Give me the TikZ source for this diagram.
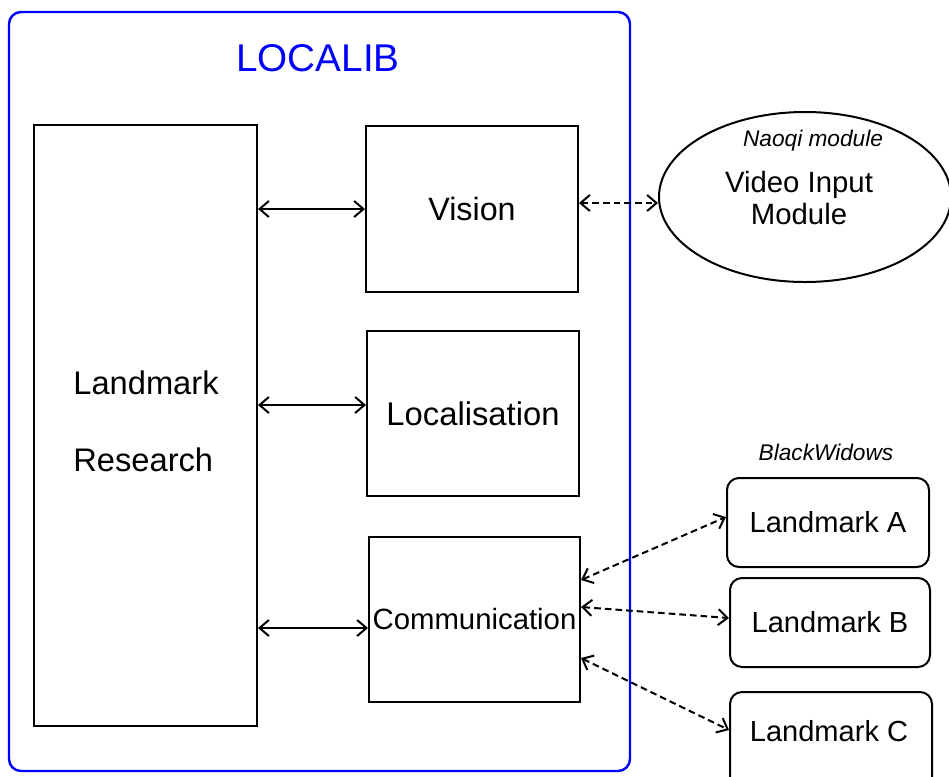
\documentclass[tikz,border=0pt]{standalone}
\usepackage{fontspec}
\setmainfont{Liberation Sans}
\usetikzlibrary{arrows.meta,shapes.geometric,calc}

\tikzset{
  box/.style={draw=black, line width=1.5pt, inner sep=0pt},
  landmarkbox/.style={box, rounded corners=9pt, minimum width=150pt, minimum height=66.75pt,
    font=\fontsize{21.8}{26}\selectfont},
  link/.style={line width=1.5pt, {Straight Barb[length=7pt,width=12pt,line width=1.5pt]}-{Straight Barb[length=7pt,width=12pt,line width=1.5pt]}},
  dlink/.style={link, dash pattern=on 5pt off 3pt},
  tag/.style={font=\fontsize{17}{20}\selectfont\itshape, inner sep=0pt}
}

\begin{document}
\begin{tikzpicture}[x=0.75pt, y=-0.75pt]
  \useasboundingbox (0,0) rectangle (949,776);

  % LOCALIB container
  \draw[blue, line width=1.8pt, rounded corners=9pt] (9,12) rectangle (630,771);
  \node[text=blue, inner sep=0pt, font=\fontsize{29}{34}\selectfont] (title) at (318,58) {LOCALIB};

  % internal modules
  \node[box, minimum width=167.25pt, minimum height=450.75pt] (LR) at (145.5,425.5) {};
  \node[inner sep=0pt, align=left, font=\fontsize{24.5}{57.75}\selectfont] (LRtext)
    at (146,421.5) {Landmark\\Research};
  \node[box, minimum width=159pt, minimum height=124.5pt, font=\fontsize{24.2}{29}\selectfont]
    (V) at (472,209) {Vision};
  \node[box, minimum width=159pt, minimum height=123.75pt, font=\fontsize{24.6}{29}\selectfont]
    (Loc) at (473,413.5) {Localisation};
  \node[box, minimum width=158.25pt, minimum height=123.75pt, font=\fontsize{22}{26}\selectfont]
    (Com) at (474.5,619.5) {Communication};

  % external Naoqi module
  \node[draw=black, line width=1.5pt, ellipse, minimum width=219pt, minimum height=127.5pt,
        inner sep=0pt] (VIM) at (805,197) {};
  \node[tag] (naoqi) at (813,141) {Naoqi module};
  \node[inner sep=0pt, align=center, font=\fontsize{22}{23.5}\selectfont] (vimtext) at (799,198)
    {Video Input\\Module};

  % BlackWidows landmarks
  \node[tag] (bw) at (826,452) {BlackWidows};
  \node[landmarkbox, minimum width=151.5pt] (LA) at (828,522.5) {Landmark A};
  \node[landmarkbox] (LB) at (830,622.5) {Landmark B};
  \node[landmarkbox, minimum width=151.5pt, minimum height=73.5pt] (LC) at (831,741) {};
  \node[inner sep=0pt, font=\fontsize{21.8}{26}\selectfont] (LCtext) at (829,731) {Landmark C};

  % internal links
  \draw[link] (LR.east |- V.west) -- (V.west);
  \draw[link] (LR.east |- 0,405) -- (Loc.west |- 0,405);
  \draw[link] (LR.east |- 0,628) -- (Com.west |- 0,628);

  % external links
  \draw[dlink] (V.east |- 0,203) -- (VIM.west |- 0,203);
  \draw[dlink] (Com.east |- 0,580) -- (LA.west |- 0,517);
  \draw[dlink] (Com.east |- 0,607) -- (LB.west |- 0,618);
  \draw[dlink] (Com.east |- 0,658) -- (LC.west |- 0,730);
\end{tikzpicture}
\end{document}
